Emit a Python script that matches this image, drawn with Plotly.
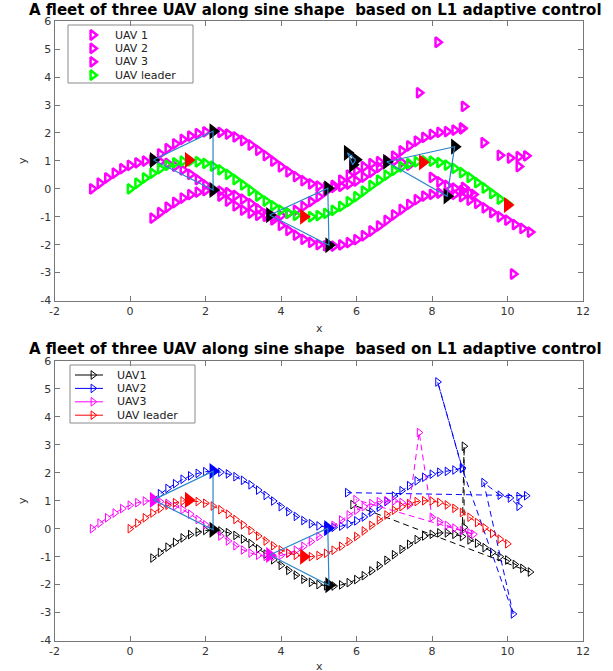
import plotly.graph_objects as go

W, H = 613, 671

# ---------------- data ----------------
leader_x = [0.0, 0.2, 0.4, 0.6, 0.8, 1.0, 1.2, 1.4, 1.6, 1.8, 2.0, 2.2, 2.4, 2.6, 2.8, 3.0, 3.2, 3.4, 3.6, 3.8,
            4.0, 4.2, 4.4, 4.6, 4.8, 5.0, 5.2, 5.4, 5.6, 5.8, 6.0, 6.2, 6.4, 6.6, 6.8, 7.0, 7.2, 7.4, 7.6, 7.8,
            8.0, 8.2, 8.4, 8.6, 8.8, 9.0, 9.2, 9.4, 9.6, 9.8, 10.0]
leader_y = [0.00, 0.20, 0.39, 0.56, 0.72, 0.84, 0.93, 0.99, 1.00, 0.97, 0.91, 0.81, 0.68, 0.52, 0.33, 0.14,
            -0.06, -0.26, -0.44, -0.61, -0.76, -0.87, -0.95, -0.99, -1.00, -0.96, -0.88, -0.77, -0.63, -0.46,
            -0.28, -0.08, 0.12, 0.31, 0.49, 0.66, 0.79, 0.90, 0.97, 1.00, 0.99, 0.94, 0.85, 0.73, 0.58, 0.41,
            0.22, 0.03, -0.17, -0.37, -0.54]

# UAV1 (lower follower)
uav1_x = [0.6, 0.8, 1.0, 1.2, 1.4, 1.6, 1.8, 2.0, 2.2, 2.4, 2.6, 2.8, 3.0, 3.2, 3.4, 3.6, 3.8, 4.0, 4.2, 4.4,
          4.6, 4.8, 5.0, 5.2, 5.4, 5.6, 5.8, 6.0, 6.2, 6.4, 6.6, 6.8, 7.0, 7.2, 7.4, 7.6, 7.8, 8.0, 8.2, 8.4,
          8.6, 8.8, 8.85, 8.85, 9.0, 9.2, 9.4, 9.6, 9.8, 10.0, 10.2, 10.4, 10.6, 5.9]
uav1_y = [-1.05, -0.85, -0.66, -0.49, -0.33, -0.21, -0.12, -0.06, -0.05, -0.08, -0.14, -0.24, -0.37, -0.53,
          -0.72, -0.91, -1.11, -1.31, -1.49, -1.66, -1.81, -1.92, -2.00, -2.04, -2.05, -2.01, -1.93, -1.82,
          -1.68, -1.51, -1.33, -1.13, -0.93, -0.74, -0.56, -0.39, -0.26, -0.20, -0.15, -0.15, -0.20, -0.28,
          2.95, 0.05, -0.40, -0.52, -0.68, -0.85, -1.00, -1.12, -1.28, -1.42, -1.55, 0.86]

# UAV2 (upper follower)
uav2_x = [0.6, 0.8, 1.0, 1.2, 1.4, 1.6, 1.8, 2.0, 2.2, 2.4, 2.6, 2.8, 3.0, 3.2, 3.4, 3.6, 3.8, 4.0, 4.2, 4.4,
          4.6, 4.8, 5.0, 5.2, 5.4, 5.6, 5.8, 6.0, 6.2, 6.4, 6.6, 6.8, 7.0, 7.2, 7.4, 7.6, 7.8, 8.0, 8.2, 8.4,
          8.6, 8.8, 8.15, 8.8, 10.15, 9.37, 9.8, 10.07, 10.3, 10.3, 10.5, 5.76]
uav2_y = [1.05, 1.25, 1.44, 1.61, 1.77, 1.89, 1.98, 2.04, 2.05, 2.02, 1.96, 1.86, 1.73, 1.57, 1.38, 1.19,
          0.99, 0.79, 0.61, 0.44, 0.29, 0.18, 0.10, 0.06, 0.05, 0.09, 0.17, 0.28, 0.42, 0.59, 0.77, 0.97,
          1.17, 1.36, 1.54, 1.71, 1.84, 1.95, 2.02, 2.05, 2.10, 2.18,
          5.25, 2.15, -3.05, 1.65, 1.20, 1.10, 0.80, 1.15, 1.18, 1.29]

# UAV3 (rear follower)
uav3_x = [-1.0, -0.8, -0.6, -0.4, -0.2, 0.0, 0.2, 0.4, 0.6, 0.8, 1.0, 1.2, 1.4, 1.6, 1.8, 2.0, 2.2, 2.4, 2.6,
          2.8, 3.0, 3.2, 3.4, 3.6, 3.8, 4.0, 4.2, 4.4, 4.6, 4.8, 5.0, 5.2, 5.4, 5.6, 5.8, 6.0, 6.2, 6.4, 6.6,
          6.8, 7.0, 7.2, 7.4, 7.66, 8.0, 8.2, 8.4, 8.6, 8.8, 9.0, 9.1, 5.98]
uav3_y = [0.00, 0.20, 0.39, 0.56, 0.72, 0.84, 0.93, 0.99, 1.00, 0.97, 0.91, 0.81, 0.68, 0.52, 0.33, 0.14,
          -0.06, -0.26, -0.44, -0.61, -0.76, -0.87, -0.95, -0.99, -1.00, -0.96, -0.88, -0.77, -0.63, -0.46,
          -0.28, -0.08, 0.12, 0.31, 0.49, 0.66, 0.79, 0.90, 0.97, 1.00, 0.99, 0.94, 0.85,
          3.44, 0.41, 0.25, 0.12, 0.02, -0.07, -0.15, -0.20, 1.04]

# formation snapshots (rear, upper, lower follower and leader)
snap_rear_x = [0.62, 3.70, 6.80, 5.98]
snap_rear_y = [1.03, -0.94, 0.97, 1.04]
snap_up_x = [2.20, 5.24, 8.60, 5.76]
snap_up_y = [2.06, 0.02, 1.51, 1.29]
snap_low_x = [2.20, 5.27, 8.40, 5.90]
snap_low_y = [-0.04, -2.02, -0.27, 0.86]
snap_lead_x = [1.55, 4.60, 7.75, 10.00]
snap_lead_y = [1.03, -1.00, 0.95, -0.58]
n_snap_bottom = 2

x_ticks = [-2, 0, 2, 4, 6, 8, 10, 12]
y_ticks = [-4, -3, -2, -1, 0, 1, 2, 3, 4, 5, 6]

title_text = "A fleet of three UAV along sine shape\u00a0 based on L1 adaptive control"
top_names = ["UAV 1", "UAV 2", "UAV 3", "UAV leader"]
bot_names = ["UAV1", "UAV2", "UAV3", "UAV leader"]

# ---------------- style ----------------
FONT = "DejaVu Sans"
MAG, GRN, BLK, BLU, RED = "#FF00FF", "#00FF00", "#000000", "#0000FF", "#FF0000"
FORM = "#2a86c8"
AX = "#777777"

fig = go.Figure()

def open_markers(color, lw, size):
    return dict(symbol="triangle-right-open", size=size, color=color, line=dict(width=lw, color=color))

# ---- top subplot ----
for xs, ys in [(uav1_x, uav1_y), (uav2_x, uav2_y), (uav3_x, uav3_y)]:
    fig.add_trace(go.Scatter(x=xs, y=ys, mode="markers", marker=open_markers(MAG, 2.5, 8.5),
                             xaxis="x", yaxis="y", showlegend=False, hoverinfo="skip"))
fig.add_trace(go.Scatter(x=leader_x, y=leader_y, mode="markers", marker=open_markers(GRN, 2.5, 8.5),
                         xaxis="x", yaxis="y", showlegend=False, hoverinfo="skip"))
fig.add_trace(go.Scatter(x=snap_rear_x + snap_up_x + snap_low_x, y=snap_rear_y + snap_up_y + snap_low_y,
                         mode="markers", marker=dict(symbol="triangle-right", size=14, color=BLK),
                         xaxis="x", yaxis="y", showlegend=False, hoverinfo="skip"))
fig.add_trace(go.Scatter(x=snap_lead_x, y=snap_lead_y, mode="markers",
                         marker=dict(symbol="triangle-right", size=14, color=RED),
                         xaxis="x", yaxis="y", showlegend=False, hoverinfo="skip"))

def formation(i, xa, ya):
    fx = [snap_rear_x[i], snap_up_x[i], snap_low_x[i], snap_rear_x[i]]
    fy = [snap_rear_y[i], snap_up_y[i], snap_low_y[i], snap_rear_y[i]]
    fig.add_trace(go.Scatter(x=fx, y=fy, mode="lines", line=dict(color=FORM, width=1.2),
                             xaxis=xa, yaxis=ya, showlegend=False, hoverinfo="skip"))

for i in range(len(snap_lead_x)):
    formation(i, "x", "y")

# ---- bottom subplot ----
bot_series = [(uav1_x, uav1_y, BLK), (uav2_x, uav2_y, BLU), (uav3_x, uav3_y, MAG), (leader_x, leader_y, RED)]
for xs, ys, c in bot_series:
    fig.add_trace(go.Scatter(x=xs, y=ys, mode="lines+markers",
                             line=dict(color=c, width=1, dash="6px,4px"),
                             marker=open_markers(c, 1, 7.5),
                             xaxis="x2", yaxis="y2", showlegend=False, hoverinfo="skip"))
for sx, sy, c in [(snap_low_x, snap_low_y, BLK), (snap_up_x, snap_up_y, BLU),
                  (snap_rear_x, snap_rear_y, MAG), (snap_lead_x, snap_lead_y, RED)]:
    fig.add_trace(go.Scatter(x=sx[:n_snap_bottom], y=sy[:n_snap_bottom], mode="markers",
                             marker=dict(symbol="triangle-right", size=14, color=c),
                             xaxis="x2", yaxis="y2", showlegend=False, hoverinfo="skip"))
for i in range(n_snap_bottom):
    formation(i, "x2", "y2")

# ---- custom legends on a pixel-space overlay axis ----
annotations = []
shapes = []

def legend_box(x0, y0, x1, y1):
    shapes.append(dict(type="rect", xref="x3", yref="y3", x0=x0, y0=y0, x1=x1, y1=y1,
                       line=dict(color="#8a8a8a", width=1), fillcolor="rgba(0,0,0,0)", layer="below"))

legend_box(68, 25, 193, 83)
legend_box(70, 365, 195, 423)

row_gap = 13.4
top_cols = [MAG, MAG, MAG, GRN]
for k, (nm, c) in enumerate(zip(top_names, top_cols)):
    ry = 35 + k * row_gap
    fig.add_trace(go.Scatter(x=[92.7], y=[ry], mode="markers", marker=open_markers(c, 2.5, 8.5),
                             xaxis="x3", yaxis="y3", showlegend=False, hoverinfo="skip"))
    annotations.append(dict(x=113, y=ry, xref="x3", yref="y3", text=nm, showarrow=False,
                            xanchor="left", yanchor="middle", font=dict(family=FONT, size=11, color="#222")))

bot_cols = [BLK, BLU, MAG, RED]
for k, (nm, c) in enumerate(zip(bot_names, bot_cols)):
    ry = 375 + k * row_gap
    fig.add_trace(go.Scatter(x=[75, 103], y=[ry, ry], mode="lines", line=dict(color=c, width=1),
                             xaxis="x3", yaxis="y3", showlegend=False, hoverinfo="skip"))
    fig.add_trace(go.Scatter(x=[93], y=[ry], mode="markers", marker=open_markers(c, 1, 7.5),
                             xaxis="x3", yaxis="y3", showlegend=False, hoverinfo="skip"))
    annotations.append(dict(x=115, y=ry, xref="x3", yref="y3", text=nm, showarrow=False,
                            xanchor="left", yanchor="middle", font=dict(family=FONT, size=11, color="#222")))

# titles and axis labels
for ty in [9.5, 348.5]:
    annotations.append(dict(x=315, y=ty, xref="x3", yref="y3", text="<b>" + title_text + "</b>",
                            showarrow=False, xanchor="center", yanchor="middle",
                            font=dict(family=FONT, size=15, color="#000")))
for ty in [328, 666]:
    annotations.append(dict(x=319, y=ty, xref="x3", yref="y3", text="x", showarrow=False,
                            font=dict(family=FONT, size=11, color="#333")))
for ty in [161, 501]:
    annotations.append(dict(x=22, y=ty, xref="x3", yref="y3", text="y", showarrow=False, textangle=-90,
                            font=dict(family=FONT, size=11, color="#333")))

xd = [54.5 / W, 583 / W]
top_yd = [1 - 300.5 / H, 1 - 21.3 / H]
bot_yd = [1 - 640.5 / H, 1 - 361 / H]

def xaxis_cfg(anchor):
    return dict(domain=xd, anchor=anchor, range=[-2, 12], tickvals=x_ticks, ticktext=[str(v) for v in x_ticks],
                ticks="inside", ticklen=5, tickcolor=AX, showline=True, linecolor=AX, linewidth=1,
                mirror="ticks", showgrid=False, zeroline=False, fixedrange=True,
                tickfont=dict(family=FONT, size=11, color="#333"))

def yaxis_cfg(anchor, dom):
    return dict(domain=dom, anchor=anchor, range=[-4, 6], tickvals=y_ticks, ticktext=[str(v) for v in y_ticks],
                ticks="inside", ticklen=5, tickcolor=AX, showline=True, linecolor=AX, linewidth=1,
                mirror="ticks", showgrid=False, zeroline=False, fixedrange=True,
                tickfont=dict(family=FONT, size=11, color="#333"))

fig.update_layout(
    width=W, height=H, margin=dict(l=0, r=0, t=0, b=0, autoexpand=False),
    paper_bgcolor="white", plot_bgcolor="rgba(0,0,0,0)",
    xaxis=xaxis_cfg("y"), yaxis=yaxis_cfg("x", top_yd),
    xaxis2=xaxis_cfg("y2"), yaxis2=yaxis_cfg("x2", bot_yd),
    xaxis3=dict(domain=[0, 1], anchor="y3", range=[0, W], visible=False, fixedrange=True),
    yaxis3=dict(domain=[0, 1], anchor="x3", range=[H, 0], visible=False, fixedrange=True),
    annotations=annotations, shapes=shapes, showlegend=False, hovermode=False,
)

fig.write_html("out.html", config={"displayModeBar": False},
               post_script="document.body.style.margin='0';document.body.style.padding='0';")
